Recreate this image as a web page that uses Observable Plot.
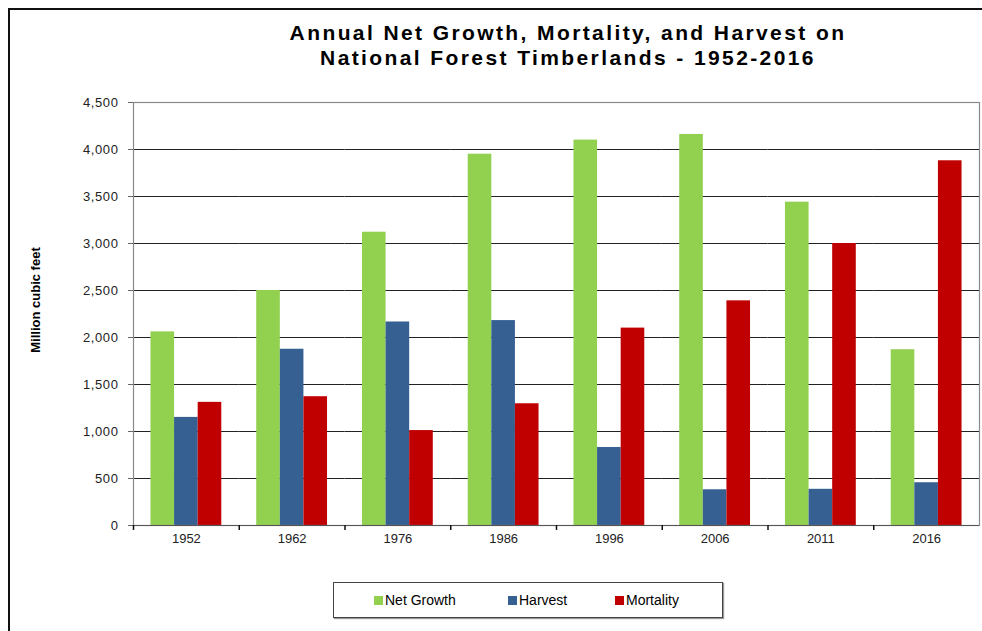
<!DOCTYPE html>
<html>
<head>
<meta charset="utf-8">
<script src="https://cdn.jsdelivr.net/npm/d3@7"></script>
<script src="https://cdn.jsdelivr.net/npm/@observablehq/plot@0.6"></script>
<style>
  html, body { margin: 0; padding: 0; background: #fff; }
  body { width: 982px; height: 631px; position: relative; overflow: hidden; font-family: "Liberation Sans", Arial, sans-serif; }
  #frame { position: absolute; left: 8px; top: 8px; width: 1200px; height: 800px; border-left: 2px solid #111; border-top: 2px solid #111; }
  #title { position: absolute; left: 0; width: 1136px; top: 20px; text-align: center; font-weight: bold; font-size: 21px; line-height: 25px; letter-spacing: 2.4px; color: #000; }
  #ylabel { position: absolute; left: 35px; top: 300px; transform: translate(-50%, -50%) rotate(-90deg); font-weight: bold; font-size: 13px; white-space: nowrap; color: #000; }
  #chart { position: absolute; left: 0; top: 90px; }
  #chart svg { overflow: visible; }
  #chart g[aria-label="y-axis tick label"] text { letter-spacing: 0.6px; }
  #legend { position: absolute; left: 333px; top: 582px; width: 388px; height: 34px; border: 1px solid #444; box-shadow: 1px 1px 1px #999; }
  .item { position: absolute; top: 9px; font-size: 14px; line-height: 16px; color: #000; white-space: nowrap; }
  .sw { display: inline-block; width: 9px; height: 9px; margin-right: 2px; vertical-align: 0px; }
</style>
</head>
<body>
<div id="frame"></div>
<div id="title">Annual Net Growth, Mortality, and Harvest on<br>National Forest Timberlands - 1952-2016</div>
<div id="ylabel">Million cubic feet</div>
<div id="chart"></div>
<div id="legend"></div>
<script>
const years = ["1952", "1962", "1976", "1986", "1996", "2006", "2011", "2016"];
const series = ["Net Growth", "Harvest", "Mortality"];
const netGrowth = [2060, 2500, 3120, 3950, 4100, 4160, 3440, 1870];
const harvest = [1150, 1875, 2165, 2180, 830, 380, 385, 455];
const mortality = [1310, 1370, 1010, 1295, 2100, 2390, 3000, 3880];
const yTicks = [0, 500, 1000, 1500, 2000, 2500, 3000, 3500, 4000, 4500];
const colors = ["#92D050", "#366092", "#C00000"];

const values = [netGrowth, harvest, mortality];
const data = [];
years.forEach((yr, i) => series.forEach((s, j) => data.push({year: yr, series: s, value: values[j][i]})));

const W = 982, H = 460, mL = 133, mR = 3, mT = 12, mB = 25;
const step = (W - mL - mR) / years.length;

const chart = Plot.plot({
  width: W, height: H,
  marginLeft: mL, marginRight: mR, marginTop: mT, marginBottom: mB,
  style: {fontFamily: "'Liberation Sans', Arial, sans-serif", fontSize: "13px", color: "#222"},
  fx: {domain: years, padding: 0, round: false, label: null, axis: null},
  x: {domain: series, paddingInner: 0, paddingOuter: 0.74, round: false, axis: null},
  y: {domain: [0, 4500], axis: null},
  color: {domain: series, range: colors},
  marks: [
    Plot.ruleY(yTicks.filter(t => t > 0 && t < 4500), {stroke: "#222", strokeWidth: 1}),
    Plot.barY(data, {fx: "year", x: "series", y: "value", fill: "series"}),
    Plot.frame({facet: "super", stroke: "#8a8a8a", strokeWidth: 1.2}),
    Plot.ruleY([0], {stroke: "#555", strokeWidth: 1.2}),
    Plot.axisY({ticks: yTicks, tickFormat: d3.format(","), tickSize: 5, tickPadding: 10, stroke: "#666", strokeOpacity: 1, label: null}),
    Plot.axisFx({anchor: "bottom", tickSize: 0, tickPadding: 8, label: null}),
    Plot.axisFx({anchor: "bottom", tickSize: 5, tickFormat: () => "", dx: -step / 2, label: null, stroke: "#111", strokeWidth: 1.5, strokeOpacity: 1})
  ]
});
document.getElementById("chart").appendChild(chart);

const legend = document.getElementById("legend");
const lx = [40, 174, 281];
series.forEach((s, j) => {
  const it = document.createElement("div");
  it.className = "item";
  it.style.left = lx[j] + "px";
  it.innerHTML = `<span class="sw" style="background:${colors[j]}"></span>${s}`;
  legend.appendChild(it);
});
</script>
</body>
</html>
